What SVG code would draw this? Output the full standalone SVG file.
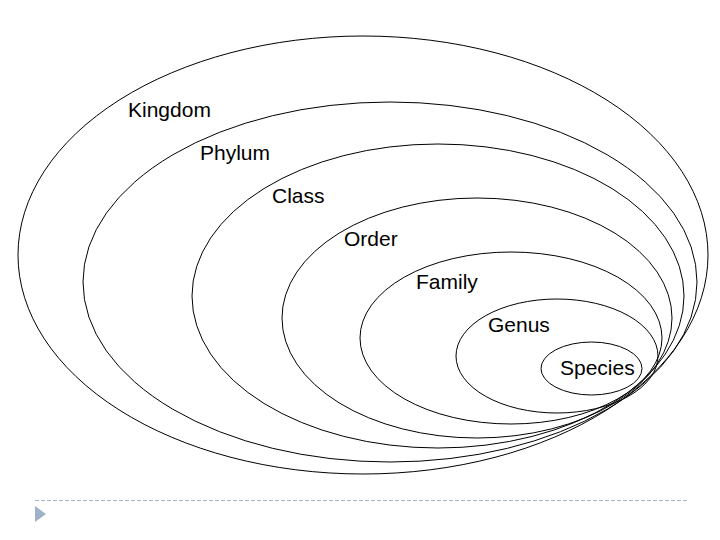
<svg xmlns="http://www.w3.org/2000/svg" width="720" height="540" viewBox="0 0 720 540">
<style>
.ring{fill:none;stroke:#000;stroke-width:1}
.lbl{font-family:"Liberation Sans",Arial,sans-serif;font-size:21px;fill:#000}
</style>
<rect width="720" height="540" fill="#fff"/>
<g id="kingdom"><ellipse class="ring" cx="363" cy="255" rx="345" ry="219"/><text class="lbl" x="128" y="117">Kingdom</text></g>
<g id="phylum"><ellipse class="ring" cx="390" cy="282" rx="307" ry="180"/><text class="lbl" x="200" y="160">Phylum</text></g>
<g id="class"><ellipse class="ring" cx="438" cy="296" rx="246" ry="152"/><text class="lbl" x="272" y="203">Class</text></g>
<g id="order"><ellipse class="ring" cx="477" cy="318" rx="195" ry="120"/><text class="lbl" x="344" y="246">Order</text></g>
<g id="family"><ellipse class="ring" cx="511" cy="338" rx="151" ry="86"/><text class="lbl" x="416" y="289">Family</text></g>
<g id="genus"><ellipse class="ring" cx="557" cy="356" rx="101" ry="57"/><text class="lbl" x="488" y="332">Genus</text></g>
<g id="species"><ellipse class="ring" cx="591.5" cy="368.5" rx="50.5" ry="26.5"/><text class="lbl" x="560" y="375">Species</text></g>
<g id="connectors"></g>
<line x1="35" y1="500.5" x2="688" y2="500.5" stroke="#a7b4c4" stroke-width="1" stroke-dasharray="4,2"/>
<polygon points="35,506 46,514 35,522" fill="#9fb2c9"/>
</svg>
